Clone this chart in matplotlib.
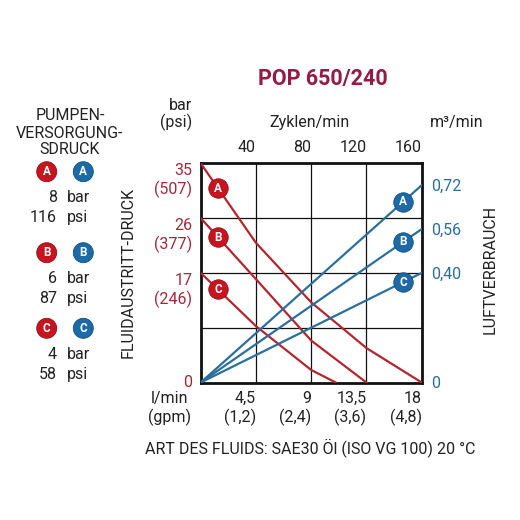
import numpy as np
import matplotlib
matplotlib.use('Agg')
import matplotlib.pyplot as plt
from matplotlib.patches import Circle

plt.rcParams['font.family'] = ['Roboto', 'DejaVu Sans']

# ------------------------------- data
# fluid outlet pressure (bar) against flow (l/min)
flow_A = [0, 4.5, 9, 13.5, 18]
press_A = [35, 22.3, 12.8, 5.5, 0]
flow_B = [0, 4.5, 9, 13.5]
press_B = [26.25, 16.5, 6.7, 0]
flow_C = [0, 4.5, 9, 11]
press_C = [17.5, 9.0, 2.0, 0]

# air consumption (m3/min), straight lines from 0 to 18 l/min
air_flow = [0, 18]
air_A = [0, 0.72]
air_B = [0, 0.56]
air_C = [0, 0.40]

flow_ticks = [4.5, 9, 13.5, 18]
flow_labels = ['4,5\n(1,2)', '9\n(2,4)', '13,5\n(3,6)', '18\n(4,8)']
cycle_ticks = [40, 80, 120, 160]
press_ticks = [0, 17.5, 26.25, 35]
press_labels = ['0', '17\n(246)', '26\n(377)', '35\n(507)']
air_ticks = [0, 0.40, 0.56, 0.72]
air_labels = ['0', '0,40', '0,56', '0,72']

supply_bar = ['8', '6', '4']
supply_psi = ['116', '87', '58']
letters = ['A', 'B', 'C']

red_line = '#b3262f'
red_dot = '#c8141e'
red_txt = '#a3283c'
blue_line = '#2b6f9b'
blue_dot = '#1d6aa6'
blue_txt = '#2b6f9b'
title_col = '#931b45'
txt = '#222222'
FS = 11.5

W = 520.0
def fx(x): return x / W
def fy(y): return 1 - y / W

fig = plt.figure(figsize=(5.2, 5.2), dpi=100)
ax = fig.add_axes([fx(200.7), fy(382.5), 221/W, 219.2/W])

ax.set_xlim(0, 18)
ax.set_ylim(0, 35)
for v in [4.5, 9, 13.5]:
    ax.axvline(v, color='#111111', lw=0.9, zorder=1)
for v in [8.75, 17.5, 26.25]:
    ax.axhline(v, color='#111111', lw=0.9, zorder=1)
for s in ax.spines.values():
    s.set_linewidth(2.0)
    s.set_color('#111111')

# red pressure curves
for fl, pr in [(flow_A, press_A), (flow_B, press_B), (flow_C, press_C)]:
    ax.plot(fl, pr, color=red_line, lw=1.6, zorder=3)
for fl, pr, lt in [(flow_A, press_A, 'A'), (flow_B, press_B, 'B'), (flow_C, press_C, 'C')]:
    yy = np.interp(1.4, fl, pr)
    ax.plot(1.4, yy, 'o', ms=14, mfc=red_dot, mec='#8e1119', mew=0.6, zorder=5)
    ax.text(1.4, yy, lt, color='white', fontsize=8.5, fontweight='bold', ha='center', va='center', zorder=6)

ax.set_xticks(flow_ticks)
ax.set_xticklabels(flow_labels, fontsize=FS, color=txt, ha='right', linespacing=1.2)
ax.set_yticks(press_ticks)
ax.set_yticklabels(press_labels, fontsize=FS, color=red_txt, ha='right', multialignment='right', linespacing=1.2)
ax.tick_params(axis='both', length=0)
ax.tick_params(axis='x', pad=6)
ax.tick_params(axis='y', pad=6)
for lab in ax.get_yticklabels():
    lab.set_verticalalignment('top' if lab.get_text() != '0' else 'center')

# right axis: air consumption
ax2 = ax.twinx()
ax2.set_ylim(0, 0.8)
for fl, aa, lt in [(air_flow, air_A, 'A'), (air_flow, air_B, 'B'), (air_flow, air_C, 'C')]:
    ax2.plot(fl, aa, color=blue_line, lw=1.6, zorder=3)
    yy = np.interp(16.5, fl, aa)
    ax2.plot(16.5, yy, 'o', ms=14, mfc=blue_dot, mec='#0f4f80', mew=0.6, zorder=5, clip_on=False)
    ax2.text(16.5, yy, lt, color='white', fontsize=8.5, fontweight='bold', ha='center', va='center', zorder=6)
ax2.set_yticks(air_ticks)
ax2.set_yticklabels(air_labels, fontsize=FS, color=blue_txt)
ax2.tick_params(axis='y', length=0, pad=7)
for s in ax2.spines.values():
    s.set_visible(False)

# top axis: cycles per minute
ax3 = ax.twiny()
ax3.set_xlim(0, 160)
ax3.set_xticks(cycle_ticks)
ax3.set_xticklabels([str(c) for c in cycle_ticks], fontsize=FS, color=txt, ha='right')
ax3.tick_params(axis='x', length=0, pad=6)
for s in ax3.spines.values():
    s.set_visible(False)

# titles and axis captions
fig.text(fx(323), fy(79), 'POP 650/240', fontsize=15.5, fontweight='bold', color=title_col, ha='center', va='center')
fig.text(fx(192), fy(105), 'bar', fontsize=FS, color=txt, ha='right', va='center')
fig.text(fx(192), fy(122), '(psi)', fontsize=FS, color=txt, ha='right', va='center')
fig.text(fx(310), fy(123), 'Zyklen/min', fontsize=FS, color=txt, ha='center', va='center')
fig.text(fx(457), fy(123), 'm³/min', fontsize=FS, color=txt, ha='center', va='center')
fig.text(fx(170), fy(391), 'l/min\n(gpm)', fontsize=FS, color=txt, ha='center', va='top', linespacing=1.2)
fig.text(fx(310), fy(448), 'ART DES FLUIDS: SAE30 Öl (ISO VG 100) 20 °C', fontsize=FS, color=txt, ha='center', va='center')
fig.text(fx(128), fy(272), 'FLUIDAUSTRITT-DRUCK', fontsize=FS, color=txt, ha='center', va='center', rotation=90)
fig.text(fx(490), fy(270), 'LUFTVERBRAUCH', fontsize=FS, color=txt, ha='center', va='center', rotation=90)

# left legend: pump supply pressure
fig.text(fx(70), fy(115), 'PUMPEN-', fontsize=FS, color=txt, ha='center', va='center')
fig.text(fx(70), fy(133), 'VERSORGUNG-', fontsize=FS, color=txt, ha='center', va='center')
fig.text(fx(70), fy(150), 'SDRUCK', fontsize=FS, color=txt, ha='center', va='center')

row_y = [171.7, 252.7, 328.3]
for ii in range(3):
    cy = row_y[ii]
    for cx, fc, ec in [(46.7, red_dot, '#8e1119'), (83.3, blue_dot, '#0f4f80')]:
        fig.add_artist(Circle((fx(cx), fy(cy)), 10/W, transform=fig.transFigure, fc=fc, ec=ec, lw=0.6))
        fig.text(fx(cx), fy(cy), letters[ii], color='white', fontsize=8.5, fontweight='bold', ha='center', va='center')
    fig.text(fx(57), fy(cy + 26), supply_bar[ii], fontsize=FS, color=txt, ha='right', va='center')
    fig.text(fx(67), fy(cy + 26), 'bar', fontsize=FS, color=txt, ha='left', va='center')
    fig.text(fx(57), fy(cy + 46), supply_psi[ii], fontsize=FS, color=txt, ha='right', va='center')
    fig.text(fx(67), fy(cy + 46), 'psi', fontsize=FS, color=txt, ha='left', va='center')

plt.savefig('out.png', dpi=100)
plt.close('all')
